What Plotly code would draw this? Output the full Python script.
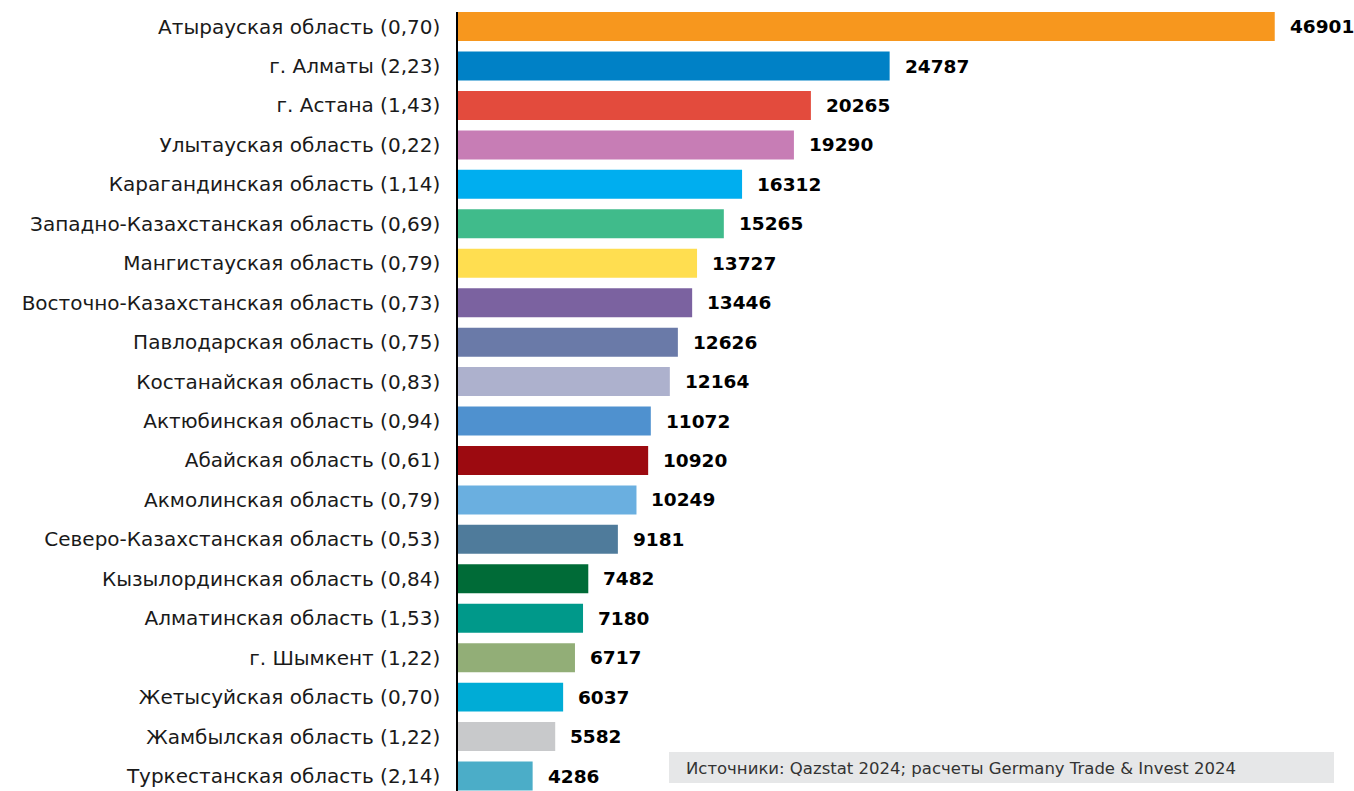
import plotly.graph_objects as go

regions = [
    "Атырауская область (0,70)",
    "г. Алматы (2,23)",
    "г. Астана (1,43)",
    "Улытауская область (0,22)",
    "Карагандинская область (1,14)",
    "Западно-Казахстанская область (0,69)",
    "Мангистауская область (0,79)",
    "Восточно-Казахстанская область (0,73)",
    "Павлодарская область (0,75)",
    "Костанайская область (0,83)",
    "Актюбинская область (0,94)",
    "Абайская область (0,61)",
    "Акмолинская область (0,79)",
    "Северо-Казахстанская область (0,53)",
    "Кызылординская область (0,84)",
    "Алматинская область (1,53)",
    "г. Шымкент (1,22)",
    "Жетысуйская область (0,70)",
    "Жамбылская область (1,22)",
    "Туркестанская область (2,14)",
]
values = [46901, 24787, 20265, 19290, 16312, 15265, 13727, 13446, 12626, 12164,
          11072, 10920, 10249, 9181, 7482, 7180, 6717, 6037, 5582, 4286]
colors = ["#F7971E", "#0081C6", "#E34B3D", "#C77DB5", "#00AEEF", "#40BB8B",
          "#FFDE50", "#7B62A0", "#6A7AA8", "#ADB1CD", "#4F91CF", "#9C0A10",
          "#6AAFE0", "#4F7B9B", "#006B37", "#00998A", "#92AE77", "#00ACD6",
          "#C8C9CB", "#4BADC8"]
source_text = "Источники: Qazstat 2024; расчеты Germany Trade & Invest 2024"

FONT = "DejaVu Sans"
W, H = 1354, 791
ML, MR, MT, MB = 458, 34, 12, 0
PW, PH = W - ML - MR, H - MT - MB


def px_x(px):
    return (px - ML) / PW


def px_y(py):
    return 1 - (py - MT) / PH


fig = go.Figure()
fig.add_trace(go.Bar(
    x=values, y=regions, orientation="h",
    marker=dict(color=colors, line=dict(width=0)),
    width=0.735, hoverinfo="skip",
))

for r, v in zip(regions, values):
    fig.add_annotation(x=v, y=r, text=f"<b>{v}</b>", showarrow=False,
                       xanchor="left", yanchor="middle", xshift=13,
                       font=dict(family=FONT, size=18.5, color="#000000"))

# source box
fig.add_shape(type="rect", xref="paper", yref="paper",
              x0=px_x(669), x1=px_x(1334), y0=px_y(783), y1=px_y(752),
              fillcolor="#E6E7E8", line=dict(width=0), layer="above")
fig.add_annotation(xref="paper", yref="paper", x=px_x(684), y=px_y(768),
                   xanchor="left", yanchor="middle", showarrow=False,
                   text=source_text, align="left",
                   font=dict(family=FONT, size=16.5, color="#333333"))

fig.update_layout(
    width=W, height=H,
    margin=dict(l=ML, r=MR, t=MT, b=MB),
    plot_bgcolor="white", paper_bgcolor="white",
    showlegend=False,
    font=dict(family=FONT),
    xaxis=dict(range=[0, 49500], visible=False, fixedrange=True),
    yaxis=dict(
        categoryorder="array", categoryarray=regions,
        range=[19.38, -0.37],
        showline=True, linecolor="#000000", linewidth=1.5,
        showgrid=False, zeroline=False, fixedrange=True,
        ticks="outside", ticklen=12, tickcolor="rgba(0,0,0,0)",
        tickfont=dict(family=FONT, size=20, color="#1A1A1A"),
    ),
)

fig.write_html("out.html", config={"displayModeBar": False},
               post_script="document.body.style.margin='0';document.body.style.overflow='hidden';")
